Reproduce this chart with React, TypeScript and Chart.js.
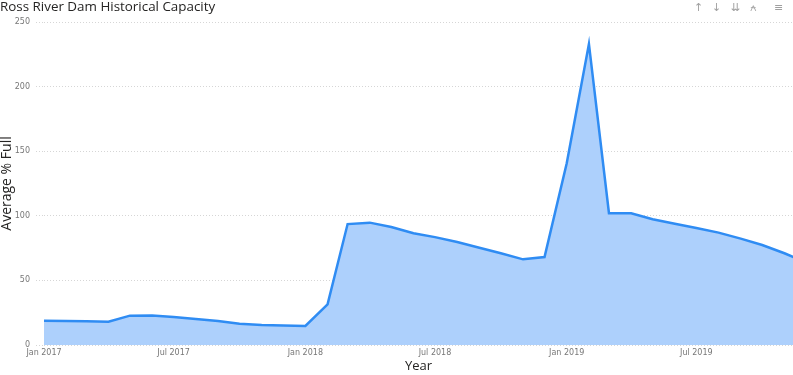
import React, { useEffect, useRef } from "react";
import { Chart, registerables } from "chart.js";

Chart.register(...registerables);

const months: string[] = [
  "2017-01", "2017-02", "2017-03", "2017-04", "2017-05", "2017-06",
  "2017-07", "2017-08", "2017-09", "2017-10", "2017-11", "2017-12",
  "2018-01", "2018-02", "2018-03", "2018-04", "2018-05", "2018-06",
  "2018-07", "2018-08", "2018-09", "2018-10", "2018-11", "2018-12",
  "2019-01", "2019-02", "2019-03", "2019-04", "2019-05", "2019-06",
  "2019-07", "2019-08", "2019-09", "2019-10", "2019-11", "2019-12",
];

const avgFull: number[] = [
  18.8, 18.6, 18.3, 18.0, 22.7, 22.8,
  21.6, 20.2, 18.6, 16.5, 15.5, 15.1,
  14.8, 31.5, 93.6, 94.7, 91.3, 86.5,
  83.5, 79.7, 75.3, 71.0, 66.3, 68.1,
  140.6, 233.0, 102.0, 102.0, 97.3, 93.9,
  90.5, 87.0, 82.3, 77.4, 71.0, 64.0,
];

const tickMonths: string[] = ["2017-01", "2017-07", "2018-01", "2018-07", "2019-01", "2019-07"];
const tickLabels: string[] = ["Jan 2017", "Jul 2017", "Jan 2018", "Jul 2018", "Jan 2019", "Jul 2019"];
const yTicks: number[] = [0, 50, 100, 150, 200, 250];
const axisEndDay = 1046; // visible end of the time axis (mid Nov 2019)

function dayOffset(ym: string): number {
  const [y, m] = ym.split("-").map(Number);
  return (Date.UTC(y, m - 1, 1) - Date.UTC(2017, 0, 1)) / 86400000;
}

export default function App() {
  const ref = useRef<HTMLCanvasElement | null>(null);

  useEffect(() => {
    document.body.style.margin = "0";
    document.body.style.overflow = "hidden";
    if (!ref.current) return;
    const tickDays = tickMonths.map(dayOffset);
    const chart = new Chart(ref.current, {
      type: "line",
      data: {
        datasets: [
          {
            data: months.map((m, i) => ({ x: dayOffset(m), y: avgFull[i] })),
            borderColor: "#2F8CF3",
            backgroundColor: "#ADD0FC",
            borderWidth: 2.5,
            fill: "origin",
            tension: 0,
            pointRadius: 0,
            pointHoverRadius: 0,
          },
        ],
      },
      options: {
        responsive: false,
        animation: false,
        layout: { padding: { top: 22, right: 0, left: 0, bottom: 0 } },
        plugins: {
          legend: { display: false },
          tooltip: { enabled: false },
          title: { display: false },
        },
        scales: {
          x: {
            type: "linear",
            min: 0,
            max: axisEndDay,
            grid: { display: false, drawTicks: false },
            border: { display: false },
            afterBuildTicks: (scale: any) => {
              scale.ticks = tickDays.map((v) => ({ value: v }));
            },
            afterFit: (scale: any) => {
              scale.height = 30;
            },
            ticks: {
              autoSkip: false,
              maxRotation: 0,
              padding: 3,
              color: "#777777",
              font: { family: "DejaVu Sans", size: 8 },
              callback: (value: any) => {
                const idx = tickDays.indexOf(Number(value));
                return idx >= 0 ? tickLabels[idx] : "";
              },
            },
            title: {
              display: true,
              text: "Year",
              color: "#252423",
              font: { family: "Open Sans", size: 13, lineHeight: 1.2 },
              padding: { top: 0, bottom: 1 },
            },
          },
          y: {
            min: 0,
            max: 250,
            afterBuildTicks: (scale: any) => {
              scale.ticks = yTicks.map((v) => ({ value: v }));
            },
            afterFit: (scale: any) => {
              scale.width = 44;
            },
            grid: {
              color: "#D6D6D6",
              lineWidth: 1,
              tickLength: 8,
              tickColor: "#D6D6D6",
              tickBorderDash: [1, 2],
            },
            border: { display: false, dash: [1, 2] },
            ticks: {
              padding: 6,
              color: "#777777",
              font: { family: "DejaVu Sans", size: 8 },
            },
            title: {
              display: true,
              text: "Average % Full",
              color: "#252423",
              font: { family: "Open Sans", size: 14, lineHeight: 1 },
              padding: { top: 0, bottom: 0 },
            },
          },
        },
      },
    });
    return () => chart.destroy();
  }, []);

  const iconStyle: React.CSSProperties = {
    position: "absolute",
    top: 1,
    fontFamily: "DejaVu Sans",
    fontSize: 11,
    color: "#A0A0A0",
  };

  return (
    <div style={{ position: "relative", width: 793, height: 375, background: "#ffffff", overflow: "hidden" }}>
      <canvas ref={ref} width={793} height={375} style={{ position: "absolute", left: 0, top: 0 }} />
      <div
        style={{
          position: "absolute",
          left: 0,
          top: -3,
          fontFamily: "Open Sans",
          fontSize: 13.4,
          color: "#252423",
          whiteSpace: "nowrap",
        }}
      >
        Ross River Dam Historical Capacity
      </div>
      <span style={{ ...iconStyle, left: 694 }}>↑</span>
      <span style={{ ...iconStyle, left: 712 }}>↓</span>
      <span style={{ ...iconStyle, left: 731 }}>⇊</span>
      <span style={{ ...iconStyle, left: 750 }}>⍲</span>
      <span style={{ ...iconStyle, left: 774 }}>≡</span>
    </div>
  );
}
